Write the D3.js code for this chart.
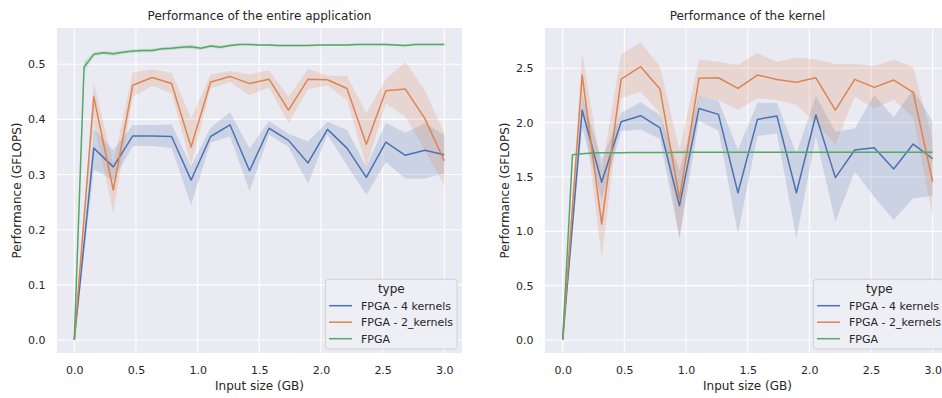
<!DOCTYPE html>
<html>
<head>
<meta charset="utf-8">
<script src="https://cdn.jsdelivr.net/npm/d3@7"></script>
<style>
  html, body { margin: 0; padding: 0; background: #ffffff; }
  svg { display: block; font-family: "DejaVu Sans", sans-serif; }
</style>
</head>
<body>
<svg id="chart" width="942" height="398"></svg>
<script>
// ---------- DATA ----------
const seriesNames = ["FPGA - 4 kernels", "FPGA - 2_kernels", "FPGA"];
const seriesColors = ["#4c72b0", "#dd8452", "#55a868"];

// input sizes (GB) for the multi-kernel runs
const xKernels = [0, 0.158, 0.316, 0.474, 0.632, 0.789, 0.947, 1.105, 1.263, 1.421,
                  1.579, 1.737, 1.895, 2.053, 2.211, 2.368, 2.526, 2.684, 2.842, 3.0];
// input sizes (GB) for the single FPGA run
const xSingle = [0, 0.079, 0.158, 0.237, 0.316, 0.395, 0.474, 0.553, 0.632, 0.711,
                 0.789, 0.868, 0.947, 1.026, 1.105, 1.184, 1.263, 1.342, 1.421, 1.5,
                 1.579, 1.658, 1.737, 1.816, 1.895, 1.974, 2.053, 2.132, 2.211, 2.289,
                 2.368, 2.447, 2.526, 2.605, 2.684, 2.763, 2.842, 2.921, 3.0];

// --- Entire application (GFLOPS) ---
const app4Mean = [0, 0.348, 0.314, 0.370, 0.370, 0.369, 0.290, 0.369, 0.390, 0.307,
                  0.384, 0.362, 0.321, 0.382, 0.348, 0.295, 0.359, 0.335, 0.344, 0.336];
const app4Low  = [0, 0.309, 0.290, 0.352, 0.352, 0.348, 0.245, 0.358, 0.369, 0.270,
                  0.372, 0.350, 0.284, 0.372, 0.317, 0.263, 0.323, 0.293, 0.293, 0.302];
const app4High = [0, 0.383, 0.344, 0.390, 0.390, 0.391, 0.315, 0.385, 0.413, 0.347,
                  0.397, 0.374, 0.360, 0.396, 0.381, 0.314, 0.394, 0.376, 0.393, 0.372];

const app2Mean = [0, 0.441, 0.272, 0.462, 0.476, 0.465, 0.350, 0.468, 0.478, 0.465,
                  0.473, 0.417, 0.473, 0.472, 0.456, 0.355, 0.452, 0.455, 0.402, 0.325];
const app2Low  = [0, 0.395, 0.230, 0.441, 0.461, 0.447, 0.317, 0.456, 0.468, 0.444,
                  0.458, 0.393, 0.455, 0.461, 0.435, 0.314, 0.429, 0.405, 0.344, 0.281];
const app2High = [0, 0.467, 0.320, 0.485, 0.491, 0.484, 0.402, 0.481, 0.488, 0.482,
                  0.489, 0.441, 0.492, 0.479, 0.479, 0.411, 0.473, 0.504, 0.453, 0.375];

const app1Mean = [0, 0.495, 0.518, 0.521, 0.519, 0.522, 0.524, 0.525, 0.525, 0.528,
                  0.529, 0.531, 0.532, 0.529, 0.533, 0.531, 0.534, 0.536, 0.536, 0.535,
                  0.535, 0.534, 0.534, 0.534, 0.534, 0.535, 0.535, 0.535, 0.535, 0.536,
                  0.536, 0.536, 0.536, 0.535, 0.534, 0.536, 0.536, 0.536, 0.536];
const app1Err  = [0, 0.010, 0.004, 0.003, 0.004, 0.003, 0.003, 0.003, 0.003, 0.003,
                  0.003, 0.003, 0.004, 0.003, 0.003, 0.003, 0.003, 0.002, 0.002, 0.002,
                  0.002, 0.002, 0.002, 0.002, 0.002, 0.002, 0.002, 0.002, 0.002, 0.002,
                  0.002, 0.002, 0.002, 0.002, 0.002, 0.002, 0.002, 0.002, 0.002];

// --- Kernel only (GFLOPS) ---
const ker4Mean = [0, 2.116, 1.451, 2.009, 2.064, 1.953, 1.235, 2.131, 2.076, 1.355,
                  2.030, 2.061, 1.355, 2.070, 1.494, 1.748, 1.769, 1.573, 1.803, 1.668];
const ker4Low  = [0, 1.950, 1.288, 1.923, 1.938, 1.849, 0.935, 2.018, 1.926, 0.981,
                  1.877, 1.901, 0.935, 1.870, 1.089, 1.549, 1.319, 1.104, 1.304, 1.325];
const ker4High = [0, 2.250, 1.662, 2.092, 2.187, 2.070, 1.560, 2.245, 2.202, 1.748,
                  2.183, 2.183, 1.718, 2.245, 1.917, 1.947, 2.254, 2.049, 2.306, 2.009];

const ker2Mean = [0, 2.438, 1.068, 2.401, 2.515, 2.309, 1.300, 2.408, 2.413, 2.315,
                  2.438, 2.398, 2.371, 2.413, 2.116, 2.398, 2.325, 2.392, 2.279, 1.456];
const ker2Low  = [0, 2.220, 0.761, 2.224, 2.285, 2.086, 0.935, 2.239, 2.208, 2.116,
                  2.224, 2.208, 2.162, 2.000, 1.800, 2.240, 2.130, 2.210, 2.045, 1.134];
const ker2High = [0, 2.640, 1.560, 2.630, 2.740, 2.515, 1.748, 2.580, 2.560, 2.530,
                  2.640, 2.560, 2.600, 2.580, 2.540, 2.540, 2.520, 2.580, 2.510, 1.840];

const ker1Mean = [0, 1.704, 1.714, 1.720, 1.722, 1.723, 1.724, 1.725, 1.725, 1.726,
                  1.726, 1.726, 1.727, 1.727, 1.727, 1.727, 1.727, 1.727, 1.727, 1.728,
                  1.728, 1.728, 1.728, 1.728, 1.728, 1.728, 1.728, 1.728, 1.728, 1.728,
                  1.728, 1.728, 1.728, 1.728, 1.728, 1.728, 1.728, 1.728, 1.728];
const ker1Err  = [0, 0.006, 0.004, 0.004, 0.004, 0.004, 0.004, 0.004, 0.004, 0.004,
                  0.004, 0.004, 0.004, 0.004, 0.004, 0.004, 0.004, 0.004, 0.004, 0.004,
                  0.004, 0.004, 0.004, 0.004, 0.004, 0.004, 0.004, 0.004, 0.004, 0.004,
                  0.004, 0.004, 0.004, 0.004, 0.004, 0.004, 0.004, 0.004, 0.004];

const xTicks = [0.0, 0.5, 1.0, 1.5, 2.0, 2.5, 3.0];
const yTicksApp = [0.0, 0.1, 0.2, 0.3, 0.4, 0.5];
const yTicksKer = [0.0, 0.5, 1.0, 1.5, 2.0, 2.5];

// ---------- BUILD ----------
function zipBand(xs, mean, lo, hi) {
  return xs.map((x, i) => ({ x: x, y: mean[i], lo: lo[i], hi: hi[i] }));
}
function zipErr(xs, mean, err) {
  return xs.map((x, i) => ({ x: x, y: mean[i], lo: mean[i] - err[i], hi: mean[i] + err[i] }));
}

const panels = [
  {
    title: "Performance of the entire application",
    left: 57, top: 28, width: 405, height: 325,
    xDomain: [-0.1403, 3.1436],
    yDomain: [-0.0236, 0.5658], yTicks: yTicksApp,
    series: [
      zipBand(xKernels, app4Mean, app4Low, app4High),
      zipBand(xKernels, app2Mean, app2Low, app2High),
      zipErr(xSingle, app1Mean, app1Err)
    ]
  },
  {
    title: "Performance of the kernel",
    left: 545, top: 28, width: 405, height: 325,
    xDomain: [-0.1435, 3.1405],
    yDomain: [-0.1196, 2.871], yTicks: yTicksKer,
    series: [
      zipBand(xKernels, ker4Mean, ker4Low, ker4High),
      zipBand(xKernels, ker2Mean, ker2Low, ker2High),
      zipErr(xSingle, ker1Mean, ker1Err)
    ]
  }
];

const svg = d3.select("#chart");
const textColor = "#262626";

panels.forEach((p, pi) => {
  const g = svg.append("g").attr("transform", `translate(${p.left},${p.top})`);
  const x = d3.scaleLinear().domain(p.xDomain).range([0, p.width]);
  const y = d3.scaleLinear().domain(p.yDomain).range([p.height, 0]);

  g.append("rect").attr("width", p.width).attr("height", p.height).attr("fill", "#eaeaf2");

  // grid
  g.append("g").selectAll("line").data(xTicks).join("line")
    .attr("x1", d => x(d)).attr("x2", d => x(d)).attr("y1", 0).attr("y2", p.height)
    .attr("stroke", "#ffffff").attr("stroke-width", 1.1);
  g.append("g").selectAll("line").data(p.yTicks).join("line")
    .attr("y1", d => y(d)).attr("y2", d => y(d)).attr("x1", 0).attr("x2", p.width)
    .attr("stroke", "#ffffff").attr("stroke-width", 1.1);

  // axes (labels only, seaborn darkgrid style)
  const xAxis = d3.axisBottom(x).tickValues(xTicks).tickFormat(d3.format(".1f")).tickSize(0).tickPadding(13);
  const gx = g.append("g").attr("transform", `translate(0,${p.height})`).call(xAxis);
  gx.select(".domain").remove();
  gx.selectAll("text").attr("fill", textColor).style("font-size", "11px").style("font-family", "DejaVu Sans");

  const yAxis = d3.axisLeft(y).tickValues(p.yTicks).tickFormat(d3.format(".1f")).tickSize(0).tickPadding(11.5);
  const gy = g.append("g").call(yAxis);
  gy.select(".domain").remove();
  gy.selectAll("text").attr("fill", textColor).style("font-size", "11px").style("font-family", "DejaVu Sans");

  const clip = "clip" + pi;
  g.append("clipPath").attr("id", clip).append("rect").attr("width", p.width).attr("height", p.height);
  const plot = g.append("g").attr("clip-path", `url(#${clip})`);

  const area = d3.area().x(d => x(d.x)).y0(d => y(d.lo)).y1(d => y(d.hi));
  const line = d3.line().x(d => x(d.x)).y(d => y(d.y));

  p.series.forEach((s, si) => {
    plot.append("path").datum(s).attr("d", area)
      .attr("fill", seriesColors[si]).attr("fill-opacity", 0.2).attr("stroke", "none");
  });
  p.series.forEach((s, si) => {
    plot.append("path").datum(s).attr("d", line)
      .attr("fill", "none").attr("stroke", seriesColors[si]).attr("stroke-width", 1.5)
      .attr("stroke-linejoin", "round");
  });

  // title
  g.append("text").attr("x", p.width / 2).attr("y", -8).attr("text-anchor", "middle")
    .attr("fill", textColor).style("font-size", "12px").text(p.title);
  // axis labels
  g.append("text").attr("x", p.width / 2).attr("y", p.height + 37).attr("text-anchor", "middle")
    .attr("fill", textColor).style("font-size", "12px").text("Input size (GB)");
  g.append("text").attr("transform", `translate(${-36},${p.height / 2}) rotate(-90)`)
    .attr("text-anchor", "middle").attr("fill", textColor).style("font-size", "12px")
    .text("Performance (GFLOPS)");

  // legend
  const lg = g.append("g").attr("transform", `translate(${p.width - 136.5},${p.height - 73.7})`);
  lg.append("rect").attr("width", 131.6).attr("height", 69.7).attr("rx", 3)
    .attr("fill", "#eeeef5").attr("fill-opacity", 0.9).attr("stroke", "#cccccc").attr("stroke-width", 0.8);
  lg.append("text").attr("x", 65.8).attr("y", 14).attr("text-anchor", "middle")
    .attr("fill", textColor).style("font-size", "12px").text("type");
  seriesNames.forEach((name, i) => {
    const yy = 26.4 + i * 16.5;
    lg.append("line").attr("x1", 3.5).attr("x2", 26.5).attr("y1", yy).attr("y2", yy)
      .attr("stroke", seriesColors[i]).attr("stroke-width", 1.5);
    lg.append("text").attr("x", 35.5).attr("y", yy).attr("dy", "0.35em")
      .attr("fill", textColor).style("font-size", "11px").text(name);
  });
});
</script>
</body>
</html>
